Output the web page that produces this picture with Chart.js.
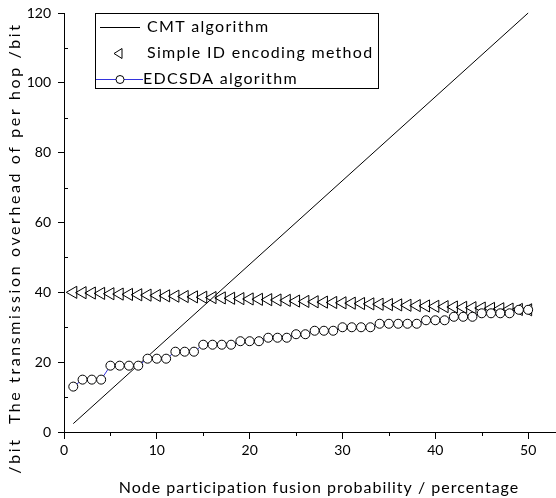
<!DOCTYPE html>
<html>
<head>
<meta charset="utf-8">
<script src="https://cdn.jsdelivr.net/npm/chart.js@4"></script>
<style>
  html, body { margin: 0; padding: 0; background: #fff; }
  canvas { display: block; }
</style>
</head>
<body>
<canvas id="overheadChart" width="556" height="498"></canvas>
<script>
// fusion probability (%) on the x axis
const probability = [
  1, 2, 3, 4, 5, 6, 7, 8, 9, 10,
  11, 12, 13, 14, 15, 16, 17, 18, 19, 20,
  21, 22, 23, 24, 25, 26, 27, 28, 29, 30,
  31, 32, 33, 34, 35, 36, 37, 38, 39, 40,
  41, 42, 43, 44, 45, 46, 47, 48, 49, 50
];

// CMT is a straight line, only its two ends are needed
const cmtX = [1, 50];
const cmtY = [2.4, 120];

const simpleIdY = [
  40.0, 39.9, 39.8, 39.7, 39.6, 39.5, 39.4, 39.3, 39.2, 39.1,
  39.0, 38.9, 38.8, 38.7, 38.6, 38.5, 38.4, 38.3, 38.2, 38.1,
  38.0, 37.9, 37.8, 37.7, 37.5, 37.4, 37.3, 37.2, 37.1, 37.0,
  36.9, 36.8, 36.7, 36.6, 36.5, 36.4, 36.3, 36.2, 36.1, 36.0,
  35.9, 35.8, 35.7, 35.6, 35.5, 35.4, 35.3, 35.2, 35.1, 35.0
];

const edcsdaY = [
  13, 15, 15, 15, 19, 19, 19, 19, 21, 21,
  21, 23, 23, 23, 25, 25, 25, 25, 26, 26,
  26, 27, 27, 27, 28, 28, 29, 29, 29, 30,
  30, 30, 30, 31, 31, 31, 31, 31, 32, 32,
  32, 33, 33, 33, 34, 34, 34, 34, 35, 35
];

const seriesNames = ['CMT algorithm', 'Simple ID encoding method', 'EDCSDA algorithm'];
const xTitle = 'Node participation fusion probability / percentage';
const yTitle = '/bit  The transmission overhead of per hop /bit';

const FONT = 'Lato, "Open Sans", sans-serif';

const toPoints = (xs, ys) => xs.map((x, i) => ({ x: x, y: ys[i] }));

// legend box, minor ticks and axis titles drawn by hand
const extrasPlugin = {
    id: 'extras',
    afterDraw(chart) {
        const ctx = chart.ctx;
        const xs = chart.scales.x;
        const ys = chart.scales.y;
        ctx.save();

        // minor ticks
        ctx.strokeStyle = '#000';
        ctx.lineWidth = 1;
        ctx.beginPath();
        for (let v = 5; v < 53; v += 10) {
            const px = Math.round(xs.getPixelForValue(v)) + 0.5;
            ctx.moveTo(px, ys.bottom);
            ctx.lineTo(px, ys.bottom + 4);
        }
        for (let v = 10; v < 120; v += 20) {
            const py = Math.round(ys.getPixelForValue(v)) + 0.5;
            ctx.moveTo(xs.left, py);
            ctx.lineTo(xs.left + 4, py);
        }
        ctx.stroke();

        // axis titles
        ctx.fillStyle = '#000';
        ctx.font = '16px ' + FONT;
        ctx.letterSpacing = '1px';
        ctx.textAlign = 'center';
        ctx.textBaseline = 'middle';
        ctx.fillText(xTitle, 319, 488);

        ctx.save();
        ctx.translate(15, 248);
        ctx.rotate(-Math.PI / 2);
        ctx.letterSpacing = '2.6px';
        ctx.fillText(yTitle, 0, 0);
        ctx.restore();

        // legend
        const bx = 95, by = 13, bw = 283, bh = 75;
        ctx.strokeStyle = '#000';
        ctx.lineWidth = 1;
        ctx.strokeRect(bx + 0.5, by + 0.5, bw, bh);

        ctx.textAlign = 'left';
        ctx.letterSpacing = '1.3px';
        ctx.font = '16px ' + FONT;
        const rows = [27, 53, 79];
        const ds = chart.data.datasets;
        rows.forEach((ry, i) => {
            const d = ds[i];
            const ly = ry + 0.5;
            if (d.showLine !== false) {
                ctx.strokeStyle = d.borderColor;
                ctx.lineWidth = 1;
                ctx.beginPath();
                ctx.moveTo(i === 2 ? 96 : 100, ly);
                ctx.lineTo(i === 2 ? 143 : 140, ly);
                ctx.stroke();
            }
            if (d.pointRadius > 0) {
                ctx.strokeStyle = d.pointBorderColor;
                ctx.fillStyle = d.pointBackgroundColor;
                ctx.lineWidth = 1;
                ctx.beginPath();
                if (i === 1) {
                    ctx.moveTo(114, ly);
                    ctx.lineTo(122, ly - 5);
                    ctx.lineTo(122, ly + 5);
                    ctx.closePath();
                } else {
                    ctx.arc(120, ly, 4, 0, Math.PI * 2);
                    ctx.fill();
                }
                ctx.stroke();
            }
            ctx.fillStyle = '#000';
            ctx.fillText(seriesNames[i], i === 2 ? 143 : 147, ry);
        });

        ctx.restore();
    }
};

const ctx = document.getElementById('overheadChart').getContext('2d');

new Chart(ctx, {
    type: 'scatter',
    data: {
        datasets: [
            {
                label: seriesNames[0],
                data: toPoints(cmtX, cmtY),
                showLine: true,
                borderColor: '#000',
                borderWidth: 1,
                pointRadius: 0,
                clip: false,
                order: 3
            },
            {
                label: seriesNames[1],
                data: toPoints(probability, simpleIdY),
                showLine: false,
                pointStyle: 'triangle',
                pointRotation: -90,
                pointRadius: 7,
                pointBorderWidth: 1,
                pointBorderColor: '#000',
                pointBackgroundColor: 'rgba(0,0,0,0)',
                clip: false,
                order: 2
            },
            {
                label: seriesNames[2],
                data: toPoints(probability, edcsdaY),
                showLine: true,
                borderColor: '#3333dd',
                borderWidth: 1,
                pointStyle: 'circle',
                pointRadius: 4.5,
                pointBorderWidth: 1,
                pointBorderColor: '#000',
                pointBackgroundColor: '#fff',
                clip: false,
                order: 1
            }
        ]
    },
    options: {
        responsive: false,
        animation: false,
        layout: { autoPadding: false, padding: { top: 13, right: 0, left: 0, bottom: 0 } },
        plugins: {
            legend: { display: false },
            tooltip: { enabled: false }
        },
        scales: {
            x: {
                type: 'linear',
                min: 0,
                max: 53,
                afterBuildTicks: (s) => { s.ticks = s.ticks.filter(t => t.value % 10 === 0); },
                afterFit: (s) => { s.height = 66; s.paddingRight = 0; s.paddingLeft = 0; },
                border: { display: true, color: '#000', width: 1 },
                grid: { drawOnChartArea: false, drawTicks: true, tickLength: 7, color: '#000' },
                ticks: {
                    stepSize: 10,
                    color: '#000',
                    padding: 3,
                    maxRotation: 0,
                    font: { family: FONT, size: 14 }
                }
            },
            y: {
                type: 'linear',
                min: 0,
                max: 120,
                afterFit: (s) => { s.width = 64; s.paddingTop = 0; s.paddingBottom = 0; },
                border: { display: true, color: '#000', width: 1 },
                grid: { drawOnChartArea: false, drawTicks: true, tickLength: 6, color: '#000' },
                ticks: {
                    stepSize: 20,
                    color: '#000',
                    padding: 7,
                    font: { family: FONT, size: 14 }
                }
            }
        }
    },
    plugins: [extrasPlugin]
});
</script>
</body>
</html>
